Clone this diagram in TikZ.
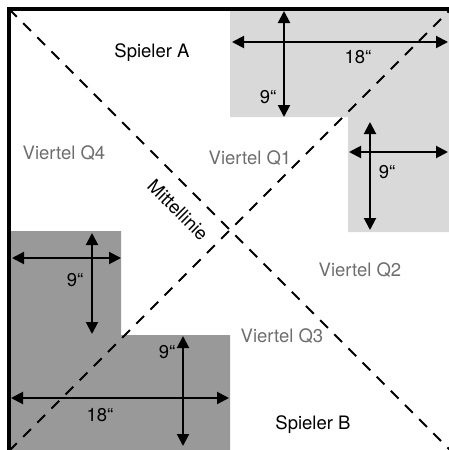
\documentclass[tikz,border=0pt]{standalone}
\usepackage{fontspec}
\setmainfont{TeX Gyre Heros}
\usetikzlibrary{arrows.meta}
\definecolor{lightzone}{RGB}{217,217,217}
\definecolor{darkzone}{RGB}{153,153,153}
\definecolor{quartertext}{RGB}{110,110,110}
\begin{document}
\begin{tikzpicture}[
        x=1pt, y=-1pt,
        every node/.style={font=\fontsize{18.5}{22}\selectfont, inner sep=0pt},
        player/.style={text=black},
        quarter/.style={text=quartertext},
        dimlabel/.style={text=black},
        dimarrow/.style={draw, line width=2pt, {Triangle[length=12pt,width=12pt]}-{Triangle[length=12pt,width=12pt]}},
        midline/.style={draw, line width=1.9pt, dash pattern=on 11pt off 9pt},
        border/.style={draw, line width=3.5pt},
    ]
    \useasboundingbox (0,0) rectangle (449,450);
    % zones
    \fill[lightzone] (230,9.5) -- (450,9.5) -- (450,232) -- (348,232) -- (348,117) -- (230,117) -- cycle;
    \fill[darkzone] (11,231) -- (121,231) -- (121,335) -- (230,335) -- (230,450) -- (11,450) -- cycle;
    % court corners
    \coordinate (tl) at (9,9);
    \coordinate (tr) at (451,9);
    \coordinate (bl) at (9,451);
    \coordinate (br) at (451,451);
    \draw[midline] (tl) -- (br);
    \draw[midline] (bl) -- (tr);
    \draw[border] (bl) -- (tl) -- (tr);
    % dimension arrows, zone A
    \coordinate (a1) at (232,42);  \coordinate (a2) at (448,42);
    \coordinate (a3) at (284,11);  \coordinate (a4) at (284,117);
    \coordinate (a5) at (349,152); \coordinate (a6) at (448,152);
    \coordinate (a7) at (370,122); \coordinate (a8) at (370,230);
    \draw[dimarrow] (a1) -- (a2);
    \draw[dimarrow] (a3) -- (a4);
    \draw[dimarrow] (a5) -- (a6);
    \draw[dimarrow] (a7) -- (a8);
    % dimension arrows, zone B
    \coordinate (b1) at (12,258);  \coordinate (b2) at (121,258);
    \coordinate (b3) at (92,233);  \coordinate (b4) at (92,334);
    \coordinate (b5) at (11,398);  \coordinate (b6) at (229,398);
    \coordinate (b7) at (183,336); \coordinate (b8) at (183,446);
    \draw[dimarrow] (b1) -- (b2);
    \draw[dimarrow] (b3) -- (b4);
    \draw[dimarrow] (b5) -- (b6);
    \draw[dimarrow] (b7) -- (b8);
    % labels
    \node[dimlabel](a18) at (358,57) {18“};
    \node[dimlabel](a9) at (268,97) {9“};
    \node[dimlabel](a9b) at (387,172) {9“};
    \node[dimlabel](b9) at (75,280) {9“};
    \node[dimlabel](b9b) at (167,352) {9“};
    \node[dimlabel](b18) at (100,415) {18“};
    \node[player](spa) at (152,53) {Spieler A};
    \node[player](spb) at (313,425) {Spieler B};
    \node[quarter](q1) at (250,158) {Viertel Q1};
    \node[quarter](q2) at (360,270) {Viertel Q2};
    \node[quarter](q3) at (282,336) {Viertel Q3};
    \node[quarter](q4) at (64,153) {Viertel Q4};
    \node[rotate=-45](mid) at (178,210) {Mittellinie};
\end{tikzpicture}
\end{document}
